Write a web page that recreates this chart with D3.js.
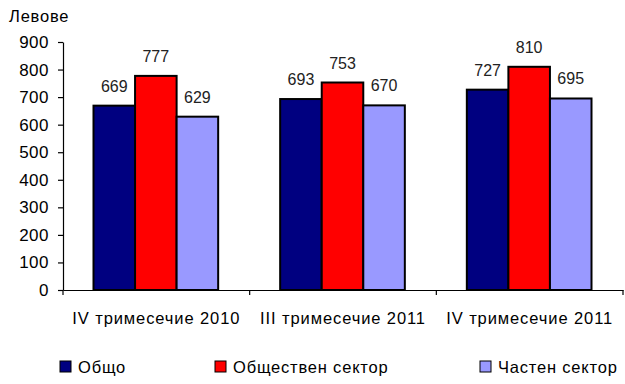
<!DOCTYPE html>
<html><head><meta charset="utf-8">
<script src="https://cdn.jsdelivr.net/npm/d3@7"></script>
<style>body{margin:0;background:#fff}svg{display:block}text{font-family:Arial,"Liberation Sans",sans-serif}</style>
</head><body><svg id="c" width="625" height="384"></svg>
<script>
const categories = ["IV тримесечие 2010", "III тримесечие 2011", "IV тримесечие 2011"];
const seriesNames = ["Общо", "Обществен сектор", "Частен сектор"];
const obshto = [669, 693, 727];
const obshtestven = [777, 753, 810];
const chasten = [629, 670, 695];
const yTicks = [0, 100, 200, 300, 400, 500, 600, 700, 800, 900];
const colors = ["#000080", "#FF0000", "#9999FF"];
const series = [obshto, obshtestven, chasten];

(function () {
const svg = d3.select("#c");
const mLeft = 63, mRight = 623, mTop = 42, mBottom = 290;
const x = d3.scaleBand().domain(categories).range([mLeft, mRight]);
const x1 = d3.scaleBand().domain(seriesNames).range([30.5, x.bandwidth() - 31.5]);
const y = d3.scaleLinear().domain([0, 900]).range([mBottom, mTop]);

// y axis
const ya = svg.append("g").attr("transform", `translate(${mLeft},0)`)
  .call(d3.axisLeft(y).tickValues(yTicks).tickSize(5).tickPadding(9).tickSizeOuter(0));
ya.select(".domain").attr("stroke", "#000").attr("stroke-width", 1.2);
ya.selectAll(".tick line").attr("stroke", "#000").attr("stroke-width", 1.2);
ya.selectAll("text").attr("font-size", 17).attr("fill", "#000").attr("letter-spacing", 0.5)
  .attr("font-family", "Arial, 'Liberation Sans', sans-serif");

// x axis
const xa = svg.append("g").attr("transform", `translate(0,${mBottom})`)
  .call(d3.axisBottom(x).tickSize(0).tickPadding(0).tickSizeOuter(0));
xa.select(".domain").attr("stroke", "#000").attr("stroke-width", 1.2);
xa.selectAll(".tick text").attr("font-size", 16.5).attr("fill", "#000").attr("dy", 0).attr("y", 34)
  .attr("letter-spacing", 0.9).attr("font-family", "Arial, 'Liberation Sans', sans-serif");
// category boundary ticks
const bounds = categories.map(c => x(c)).concat([x(categories[2]) + x.bandwidth()]);
svg.append("g").selectAll("line").data(bounds).join("line")
  .attr("x1", d => d).attr("x2", d => d).attr("y1", mBottom).attr("y2", mBottom + 5)
  .attr("stroke", "#000").attr("stroke-width", 1.2);

// bars
categories.forEach((cat, ci) => {
  const g = svg.append("g").attr("transform", `translate(${x(cat)},0)`);
  seriesNames.forEach((s, si) => {
    const v = series[si][ci];
    g.append("rect").attr("x", x1(s)).attr("y", y(v))
      .attr("width", x1.bandwidth()).attr("height", mBottom - y(v))
      .attr("fill", colors[si]).attr("stroke", "#000").attr("stroke-width", 2);
    g.append("text").attr("x", x1(s) + x1.bandwidth() / 2).attr("y", y(v) - 14)
      .attr("text-anchor", "middle").attr("font-size", 16).attr("fill", "#222").text(v);
  });
});

// y title
svg.append("text").attr("x", 9).attr("y", 22).attr("font-size", 16.5).attr("letter-spacing", 0.8)
  .attr("fill", "#000").text("Левове");

// legend
const legX = [60, 215, 480];
seriesNames.forEach((s, i) => {
  svg.append("rect").attr("x", legX[i]).attr("y", 361).attr("width", 11).attr("height", 11)
    .attr("fill", colors[i]).attr("stroke", "#000").attr("stroke-width", 1);
  svg.append("text").attr("x", legX[i] + 18).attr("y", 373).attr("font-size", 16.5)
    .attr("letter-spacing", 0.8).attr("fill", "#000").text(s);
});
})();
</script></body></html>
